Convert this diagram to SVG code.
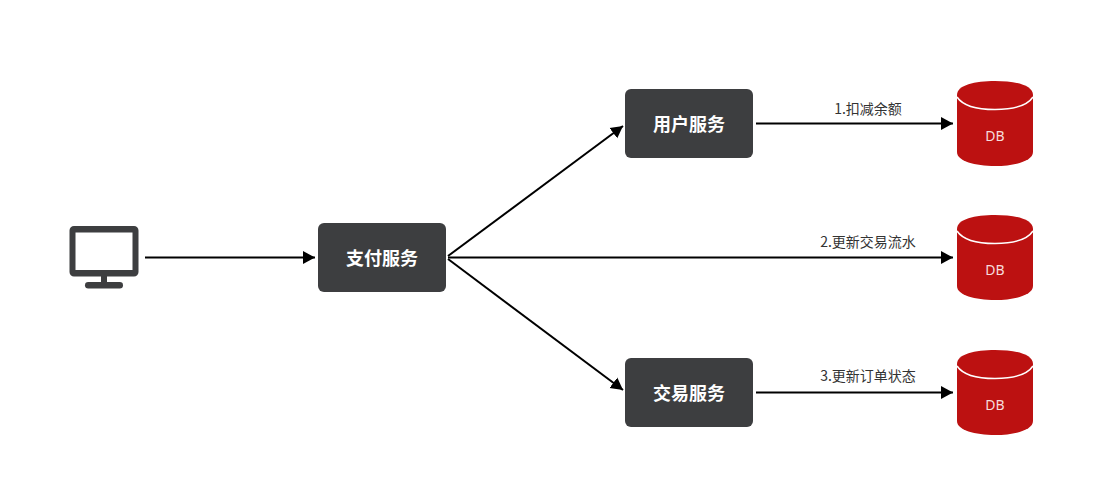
<svg xmlns="http://www.w3.org/2000/svg" width="1105" height="496" viewBox="0 0 1105 496">
<style>
.svc rect{fill:#3d3e40}
.svc text{fill:#fff;font-size:18px;font-weight:700;text-anchor:middle;font-family:"Noto Sans CJK SC","Noto Sans",sans-serif}
.edge{stroke:#000;stroke-width:2;fill:none;marker-end:url(#arrow)}
.lbl{fill:#333;font-size:14px;text-anchor:middle;font-family:"Noto Sans CJK SC","Noto Sans",sans-serif}
.cb{fill:#bc1111}
.cl{fill:none;stroke:#fff;stroke-width:1.500}
.db text{fill:#f6dcdc;font-size:14px;text-anchor:middle;font-family:"Noto Sans","Noto Sans CJK SC",sans-serif}
</style>
<defs>
<marker id="arrow" markerUnits="userSpaceOnUse" markerWidth="13" markerHeight="14" refX="12" refY="7" orient="auto"><path d="M0 0.500L12 7L0 13.500Z" fill="#000"/></marker>
<g id="cyl"><path class="cb" d="M957 95C957 85 975 81 995 81C1015 81 1033 85 1033 95V152C1033 161 1015 166 995 166C975 166 957 161 957 152Z"/><path class="cl" d="M957 97C963 106 978 109.500 995 109.500C1012 109.500 1027 106 1033 97"/></g>
</defs>
<g id="connectors">
<path class="edge" d="M145 257.500H315"/>
<path class="edge" d="M448 256L623 126"/>
<path class="edge" d="M448 257.500H953"/>
<path class="edge" d="M448 259L623 390"/>
<path class="edge" d="M756 123.500H953"/>
<path class="edge" d="M756 392.500H953"/>
</g>
<g id="client" fill="#3d3e40">
<path fill-rule="evenodd" d="M74 226H134A4.500 4.500 0 0 1 138.500 230.500V272A4.500 4.500 0 0 1 134 276.500H74A4.500 4.500 0 0 1 69.500 272V230.500A4.500 4.500 0 0 1 74 226ZM75.500 232.500V270H132.500V232.500Z"/>
<rect x="101" y="276" width="6" height="7"/>
<rect x="85" y="282" width="38" height="6.500" rx="3.200"/>
</g>
<g id="pay" class="svc"><rect x="318" y="223" width="128" height="69" rx="6"/><text x="382" y="265">支付服务</text></g>
<g id="user" class="svc"><rect x="625" y="89" width="128" height="69" rx="6"/><text x="689" y="131">用户服务</text></g>
<g id="trade" class="svc"><rect x="625" y="358" width="128" height="69" rx="6"/><text x="689" y="400">交易服务</text></g>
<g id="db1" class="db"><use href="#cyl"/><text x="995" y="141">DB</text></g>
<g id="db2" class="db"><use href="#cyl" y="134"/><text x="995" y="275">DB</text></g>
<g id="db3" class="db"><use href="#cyl" y="269"/><text x="995" y="410">DB</text></g>
<g id="labels">
<text class="lbl" x="868" y="114">1.扣减余额</text>
<text class="lbl" x="868" y="247">2.更新交易流水</text>
<text class="lbl" x="868" y="381">3.更新订单状态</text>
</g>
</svg>
